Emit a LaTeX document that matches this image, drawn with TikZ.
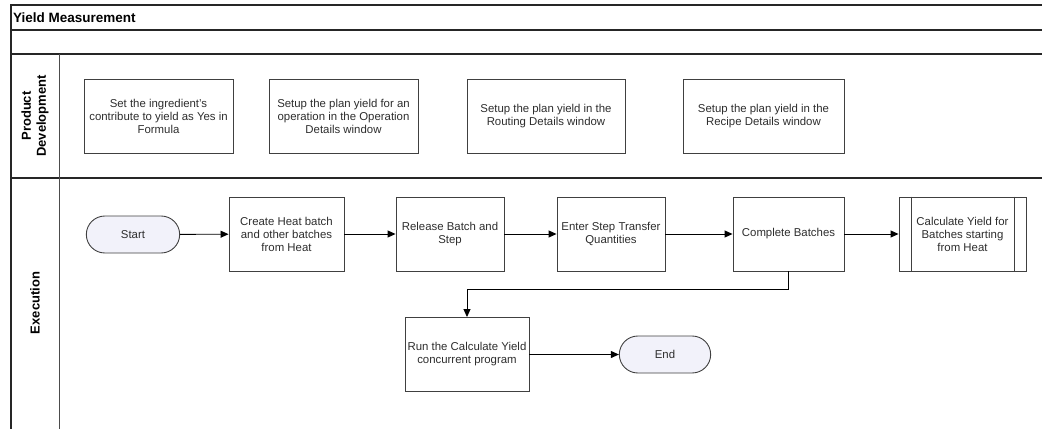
\documentclass[tikz,border=0pt]{standalone}
\usepackage{fontspec}
\setmainfont{Liberation Sans}
\usetikzlibrary{arrows.meta}
\usetikzlibrary{positioning}
\usetikzlibrary{calc}
\usetikzlibrary{shapes.misc}
\definecolor{termfill}{RGB}{242,242,250}
\definecolor{boxline}{RGB}{64,64,64}
\definecolor{boxtext}{RGB}{45,45,45}
\newcommand{\tasknode}[4]{\node(#1)[task,minimum width=#2] at (#3){#4}}
\newcommand{\lanelabel}[3]{\node(#1)[lane] at (#2){#3}}

\begin{document}
\begin{tikzpicture}[
        x=1pt, y=-1pt,
        task/.style={rectangle,draw=boxline,line width=0.9pt,minimum height=74pt,text=boxtext,
                     align=center,inner sep=2pt,font=\fontsize{11.4}{13}\selectfont},
        term/.style={rounded rectangle,draw=boxline,fill=termfill,line width=0.9pt,text=boxtext,
                     minimum width=100pt,minimum height=37pt,font=\fontsize{11.4}{13}\selectfont},
        lane/.style={rotate=90,align=center,font=\fontsize{13}{15}\selectfont\bfseries},
        frame/.style={draw=black!85,line width=1.4pt},
        flow/.style={-{Triangle[length=8pt,width=7pt]},line width=0.9pt}
      ]
      \useasboundingbox (0,0) rectangle (1042,429);
      % pool and lanes
      \draw[frame] (1042,5) -- (11,5) -- (11,429);
      \draw[frame] (11,30) -- (1042,30);
      \draw[frame] (11,54) -- (1042,54);
      \draw[frame] (11,178) -- (1042,178);
      \draw[frame,line width=1pt,draw=black!70] (59,54) -- (59,429);
      \node(title)[anchor=west,inner sep=2pt,font=\fontsize{13.5}{15}\selectfont\bfseries] at (11,17.5) {Yield Measurement};
      \lanelabel{pdlane}{35,116}{Product\\Development};
      \lanelabel{exlane}{35,303}{Execution};
      % product development
      \tasknode{pd1}{149pt}{158.5,116.5}{Set the ingredient's\\contribute to yield as Yes in\\Formula};
      \tasknode{pd2}{149pt}{343.5,116.5}{Setup the plan yield for an\\operation in the Operation\\Details window};
      \tasknode{pd3}{158pt}{546,116.5}{Setup the plan yield in the\\Routing Details window};
      \tasknode{pd4}{161pt}{763.5,116.5}{Setup the plan yield in the\\Recipe Details window};
      % execution
      \node(start)[term] at (133,234.5) {Start};
      \tasknode{create}{115pt}{286.5,234}{Create Heat batch\\and other batches\\from Heat};
      \tasknode{release}{108pt}{450,234}{Release Batch and\\Step};
      \tasknode{enter}{108pt}{611,234}{Enter Step Transfer\\Quantities};
      \tasknode{complete}{111pt}{788.5,234}{Complete Batches};
      \tasknode{calc}{127pt}{962.5,234}{Calculate Yield for\\Batches starting\\from Heat};
      \draw[draw=boxline,line width=0.9pt] ($(calc.north west)+(13,0)$) -- ($(calc.south west)+(13,0)$);
      \draw[draw=boxline,line width=0.9pt] ($(calc.north east)+(-12,0)$) -- ($(calc.south east)+(-12,0)$);
      \tasknode{run}{124pt}{467,354.5}{Run the Calculate Yield\\concurrent program};
      \node(end)[term,minimum width=98pt] at (665,354.5) {End};
      % flow
      \draw[flow] (start) -- (create);
      \draw[flow] (create) -- (release);
      \draw[flow] (release) -- (enter);
      \draw[flow] (enter) -- (complete);
      \draw[flow] (complete) -- (calc);
      \draw[flow] (complete.south) -- ++(0,18) -| (run.north);
      \draw[flow] (run) -- (end);
    \end{tikzpicture}
\end{document}
